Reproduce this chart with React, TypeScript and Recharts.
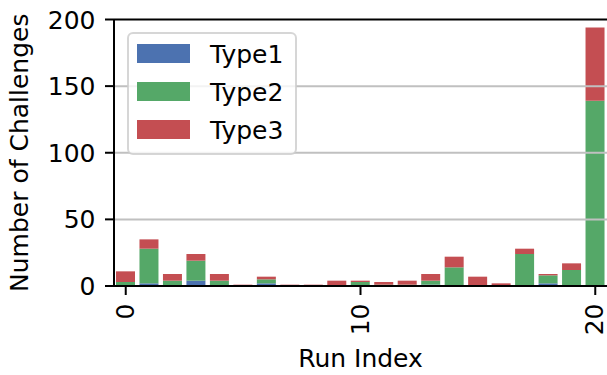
import { Bar, BarChart, Label, Legend, ReferenceLine, XAxis, YAxis } from 'recharts'

const RUNS = [0, 1, 2, 3, 4, 5, 6, 7, 8, 9, 10, 11, 12, 13, 14, 15, 16, 17, 18, 19, 20]
const TYPE1 = [0, 2, 0, 4, 0, 0, 2, 0, 0, 0, 0, 0, 0, 1, 0, 0, 0, 0, 2, 0, 0]
const TYPE2 = [3, 26, 4, 15, 4, 0, 3, 0, 0, 0, 3, 1, 1, 3, 14, 0, 0, 24, 6, 12, 139]
const TYPE3 = [8, 7, 5, 5, 5, 1, 2, 1, 1, 4, 1, 2, 3, 5, 8, 7, 2, 4, 1, 5, 55]
const Y_TICKS = [0, 50, 100, 150, 200]
const GRID_LINES = [50, 100, 150]

const SERIES = [
  { key: 'type1', name: 'Type1', color: '#4c72b0' },
  { key: 'type2', name: 'Type2', color: '#55a868' },
  { key: 'type3', name: 'Type3', color: '#c44e52' },
]

const FONT = '"DejaVu Sans", sans-serif'

const data = RUNS.map((run, i) => ({
  run: String(run),
  type1: TYPE1[i],
  type2: TYPE2[i],
  type3: TYPE3[i],
}))

function XTick({ x, payload }: { x?: number; payload?: { value: string } }) {
  const y = 303.5
  return (
    <text
      x={x}
      y={y}
      dy={8}
      transform={`rotate(-90, ${x}, ${y})`}
      textAnchor="end"
      fontSize={25}
      fontFamily={FONT}
      fill="#000"
    >
      {payload?.value}
    </text>
  )
}

function YTick({ y, payload }: { y?: number; payload?: { value: number } }) {
  return (
    <text x={95.5} y={y} dy={9} textAnchor="end" fontSize={25} fontFamily={FONT} fill="#000">
      {payload?.value}
    </text>
  )
}

function LegendBox() {
  return (
    <svg width={170} height={123} style={{ display: 'block' }}>
      <rect
        x={1}
        y={1}
        width={168}
        height={121}
        rx={5}
        fill="#fff"
        fillOpacity={0.8}
        stroke="#cccccc"
        strokeOpacity={0.8}
        strokeWidth={2}
      />
      {SERIES.map((s, i) => (
        <g key={s.key}>
          <rect x={10} y={12 + i * 38} width={53} height={19} fill={s.color} />
          <text x={83} y={31 + i * 38} fontSize={25} fontFamily={FONT} fill="#000">
            {s.name}
          </text>
        </g>
      ))}
    </svg>
  )
}

export default function App() {
  return (
    <div style={{ position: 'absolute', left: 0, top: 0, width: 607, height: 375, overflow: 'hidden', background: '#fff' }}>
      <BarChart width={607} height={375} data={data} margin={{ top: 19.5, right: 0, bottom: 0, left: 0 }}>
        <XAxis
          dataKey="run"
          interval={9}
          height={89}
          tick={<XTick />}
          tickSize={9}
          tickLine={{ stroke: '#000', strokeWidth: 2 }}
          axisLine={{ stroke: '#000', strokeWidth: 2 }}
        >
          <Label
            content={({ viewBox }: any) => (
              <text
                x={viewBox.x + viewBox.width / 2}
                y={367}
                textAnchor="middle"
                fontSize={25}
                fontFamily={FONT}
                fill="#000"
              >
                Run Index
              </text>
            )}
          />
        </XAxis>
        <YAxis
          type="number"
          domain={[0, 200]}
          ticks={Y_TICKS}
          width={114}
          tick={<YTick />}
          tickSize={9}
          tickLine={{ stroke: '#000', strokeWidth: 2 }}
          axisLine={{ stroke: '#000', strokeWidth: 2 }}
        >
          <Label
            content={({ viewBox }: any) => {
              const cy = viewBox.y + viewBox.height / 2
              return (
                <text
                  x={28}
                  y={cy}
                  transform={`rotate(-90, 28, ${cy})`}
                  textAnchor="middle"
                  fontSize={25}
                  fontFamily={FONT}
                  fill="#000"
                >
                  Number of Challenges
                </text>
              )
            }}
          />
        </YAxis>
        {SERIES.map((s) => (
          <Bar key={s.key} dataKey={s.key} name={s.name} stackId="a" fill={s.color} barSize={19} isAnimationActive={false} />
        ))}
        {GRID_LINES.map((v) => (
          <ReferenceLine key={v} y={v} stroke="#c0c0c0" strokeWidth={2} />
        ))}
        <ReferenceLine y={200} stroke="#000" strokeWidth={2} />
        <Legend
          layout="vertical"
          align="center"
          verticalAlign="middle"
          content={<LegendBox />}
          wrapperStyle={{ left: 127, top: 32, width: 170, height: 123 }}
        />
      </BarChart>
    </div>
  )
}
